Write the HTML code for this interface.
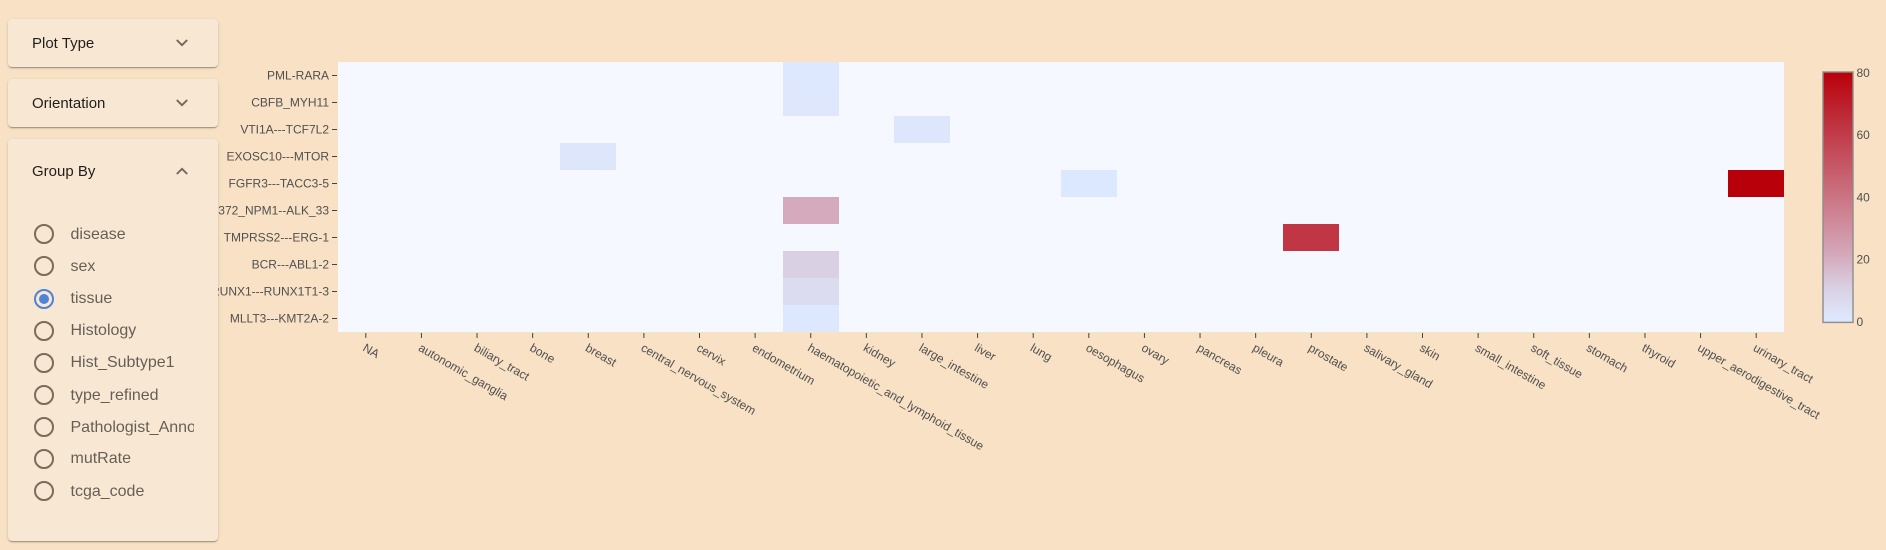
<!DOCTYPE html>
<html lang="en">
<head>
<meta charset="utf-8">
<title>Fusion heatmap</title>
<style>
html,body{margin:0;padding:0;width:1886px;height:550px;overflow:hidden;background:#f8e1c4;font-family:"Liberation Sans",sans-serif}
#plot{position:absolute;left:0;top:0;z-index:1}
.panel{position:absolute;left:8px;width:210px;background:#f8e8d3;border-radius:4px;box-shadow:0 2px 1px -1px rgba(0,0,0,.2),0 1px 1px 0 rgba(0,0,0,.14),0 1px 3px 0 rgba(0,0,0,.12);z-index:2}
.panel-title{position:absolute;left:24px;font-size:15px;line-height:20px;color:rgba(0,0,0,.87);white-space:nowrap}
.chev{position:absolute;left:168px;width:12px;height:8px}
.opt{position:absolute;left:20px;height:26px;width:166px;overflow:hidden;white-space:nowrap;cursor:pointer}
.opt .circ{position:absolute;left:6px;top:2px;width:20px;height:20px}
.opt .lbl{position:absolute;left:42.5px;top:1px;font-size:16px;line-height:24px;color:rgba(0,0,0,.6)}
</style>
</head>
<body>
<svg id="plot" width="1886" height="550" xmlns="http://www.w3.org/2000/svg"></svg>

<div class="panel" style="top:19px;height:48px">
  <div class="panel-title" style="top:15px">Plot Type</div>
  <svg class="chev" style="top:20px" viewBox="0 0 12 8"><path d="M0.8 1 L6 6.2 L11.2 1" fill="none" stroke="#6f655a" stroke-width="1.9"/></svg>
</div>
<div class="panel" style="top:79px;height:48px">
  <div class="panel-title" style="top:15px">Orientation</div>
  <svg class="chev" style="top:20px" viewBox="0 0 12 8"><path d="M0.8 1 L6 6.2 L11.2 1" fill="none" stroke="#6f655a" stroke-width="1.9"/></svg>
</div>
<div class="panel" style="top:139px;height:402px">
  <div class="panel-title" style="top:23px">Group By</div>
  <svg class="chev" style="top:28px" viewBox="0 0 12 8"><path d="M0.8 7 L6 1.8 L11.2 7" fill="none" stroke="#6f655a" stroke-width="1.9"/></svg>

  <label class="opt" style="top:83px"><svg class="circ" viewBox="0 0 20 20"><circle cx="10" cy="10" r="9" fill="none" stroke="#7b6b5d" stroke-width="2"/></svg><span class="lbl">disease</span></label>
  <label class="opt" style="top:115px"><svg class="circ" viewBox="0 0 20 20"><circle cx="10" cy="10" r="9" fill="none" stroke="#7b6b5d" stroke-width="2"/></svg><span class="lbl">sex</span></label>
  <label class="opt" style="top:148px"><svg class="circ" viewBox="0 0 20 20"><circle cx="10" cy="10" r="9" fill="none" stroke="#4f83d6" stroke-width="2"/><circle cx="10" cy="10" r="5" fill="#4f83d6"/></svg><span class="lbl" style="top:0">tissue</span></label>
  <label class="opt" style="top:180px"><svg class="circ" viewBox="0 0 20 20"><circle cx="10" cy="10" r="9" fill="none" stroke="#7b6b5d" stroke-width="2"/></svg><span class="lbl" style="top:0">Histology</span></label>
  <label class="opt" style="top:212px"><svg class="circ" viewBox="0 0 20 20"><circle cx="10" cy="10" r="9" fill="none" stroke="#7b6b5d" stroke-width="2"/></svg><span class="lbl" style="top:0">Hist_Subtype1</span></label>
  <label class="opt" style="top:244px"><svg class="circ" viewBox="0 0 20 20"><circle cx="10" cy="10" r="9" fill="none" stroke="#7b6b5d" stroke-width="2"/></svg><span class="lbl">type_refined</span></label>
  <label class="opt" style="top:276px"><svg class="circ" viewBox="0 0 20 20"><circle cx="10" cy="10" r="9" fill="none" stroke="#7b6b5d" stroke-width="2"/></svg><span class="lbl">Pathologist_Annotation</span></label>
  <label class="opt" style="top:308px"><svg class="circ" viewBox="0 0 20 20"><circle cx="10" cy="10" r="9" fill="none" stroke="#7b6b5d" stroke-width="2"/></svg><span class="lbl" style="top:0">mutRate</span></label>
  <label class="opt" style="top:340px"><svg class="circ" viewBox="0 0 20 20"><circle cx="10" cy="10" r="9" fill="none" stroke="#7b6b5d" stroke-width="2"/></svg><span class="lbl">tcga_code</span></label>
</div>

<script>
const tissues = ["NA","autonomic_ganglia","biliary_tract","bone","breast","central_nervous_system","cervix","endometrium","haematopoietic_and_lymphoid_tissue","kidney","large_intestine","liver","lung","oesophagus","ovary","pancreas","pleura","prostate","salivary_gland","skin","small_intestine","soft_tissue","stomach","thyroid","upper_aerodigestive_tract","urinary_tract"];
const fusions = ["PML-RARA","CBFB_MYH11","VTI1A---TCF7L2","EXOSC10---MTOR","FGFR3---TACC3-5","372_NPM1--ALK_33","TMPRSS2---ERG-1","BCR---ABL1-2","RUNX1---RUNX1T1-3","MLLT3---KMT2A-2"];
const cellTissue = ["haematopoietic_and_lymphoid_tissue","haematopoietic_and_lymphoid_tissue","large_intestine","breast","oesophagus","urinary_tract","haematopoietic_and_lymphoid_tissue","prostate","haematopoietic_and_lymphoid_tissue","haematopoietic_and_lymphoid_tissue","haematopoietic_and_lymphoid_tissue"];
const cellFusion = ["PML-RARA","CBFB_MYH11","VTI1A---TCF7L2","EXOSC10---MTOR","FGFR3---TACC3-5","FGFR3---TACC3-5","372_NPM1--ALK_33","TMPRSS2---ERG-1","BCR---ABL1-2","RUNX1---RUNX1T1-3","MLLT3---KMT2A-2"];
const cellValue = [0.5,1.5,2,2,0,80,21,62,11,6,0.5];
const colorTicks = [0,20,40,60,80];
const colorMax = 80;

const NS = "http://www.w3.org/2000/svg";
const svg = document.getElementById("plot");
const plotL = 338, plotR = 1784, plotT = 62, plotB = 332;
const barL = 1823, barR = 1853, barT = 72.7, barB = 321.7;

function xBand(i){ return plotL + i * (plotR - plotL) / tissues.length; }
function yBand(i){ return plotT + i * (plotB - plotT) / fusions.length; }
function yBar(v){ return barB - (v / colorMax) * (barB - barT); }
function color(v){
  const knots = [
    [0,220,232,255],[2,222,230,251],[6,220,220,240],[11,218,208,227],
    [21,212,170,188],[40,203,116,131],[62,192,54,68],[80,184,0,10]
  ];
  let k = 0;
  while (k < knots.length - 2 && v > knots[k + 1][0]) k++;
  const a = knots[k], b = knots[k + 1];
  const t = (v - a[0]) / (b[0] - a[0]);
  const ch = function(i){ return Math.round(a[i] + (b[i] - a[i]) * t); };
  return "rgb(" + ch(1) + "," + ch(2) + "," + ch(3) + ")";
}
function make(tag, attrs, parent){
  const el = document.createElementNS(NS, tag);
  for (const k in attrs) el.setAttribute(k, attrs[k]);
  (parent || svg).appendChild(el);
  return el;
}

const bg = make("rect", {x: plotL, y: plotT, width: plotR - plotL, height: plotB - plotT, fill: "#f5f8ff"});



cellValue.forEach(function(v, n){
  const c = tissues.indexOf(cellTissue[n]);
  const r = fusions.indexOf(cellFusion[n]);
  const x0 = Math.round(xBand(c)), x1 = Math.round(xBand(c + 1));
  const y0 = Math.round(yBand(r)), y1 = Math.round(yBand(r + 1));
  const cell = make("rect", {x: x0, y: y0, width: x1 - x0, height: y1 - y0, fill: color(v), "shape-rendering": "crispEdges"});
  
  
});

fusions.forEach(function(label, i){
  const y = yBand(i + 0.5);
  const tick = make("line", {x1: plotL - 6, x2: plotL - 1, y1: y, y2: y, stroke: "#444", "stroke-width": 1});
  
  
  const t = make("text", {x: plotL - 9, y: y + 4.2, "text-anchor": "end", "font-size": 12, fill: "#505050", "font-family": '"Liberation Sans",sans-serif'});
  t.textContent = label;
  
  
});

tissues.forEach(function(label, i){
  const x = xBand(i + 0.5);
  const tick = make("line", {x1: x, x2: x, y1: plotB + 1, y2: plotB + 6, stroke: "#444", "stroke-width": 1});
  
  
  const lx = x - 3.8, ly = plotB + 18.2;
  const t = make("text", {x: lx, y: ly, "text-anchor": "start", "font-size": 12, fill: "#505050", "font-family": '"Liberation Sans",sans-serif', transform: "rotate(30 " + lx + " " + ly + ")"});
  t.textContent = label;
  
  
});

const defs = make("defs", {});
const grad = make("linearGradient", {id: "cbGrad", x1: 0, y1: 1, x2: 0, y2: 0}, defs);
for (let v = 0; v <= colorMax; v += 2) {
  make("stop", {offset: v / colorMax, "stop-color": color(v)}, grad);
}
const bar = make("rect", {x: barL, y: barT - 0.7, width: barR - barL, height: barB - barT + 1.4, fill: "url(#cbGrad)", stroke: "#8c8c8c", "stroke-width": 1.4});



colorTicks.forEach(function(v){
  const t = make("text", {x: barR + 3.5, y: yBar(v) + 4.2, "font-size": 12, fill: "#505050", "font-family": '"Liberation Sans",sans-serif'});
  t.textContent = String(v);
  
  
});
</script>
</body>
</html>
